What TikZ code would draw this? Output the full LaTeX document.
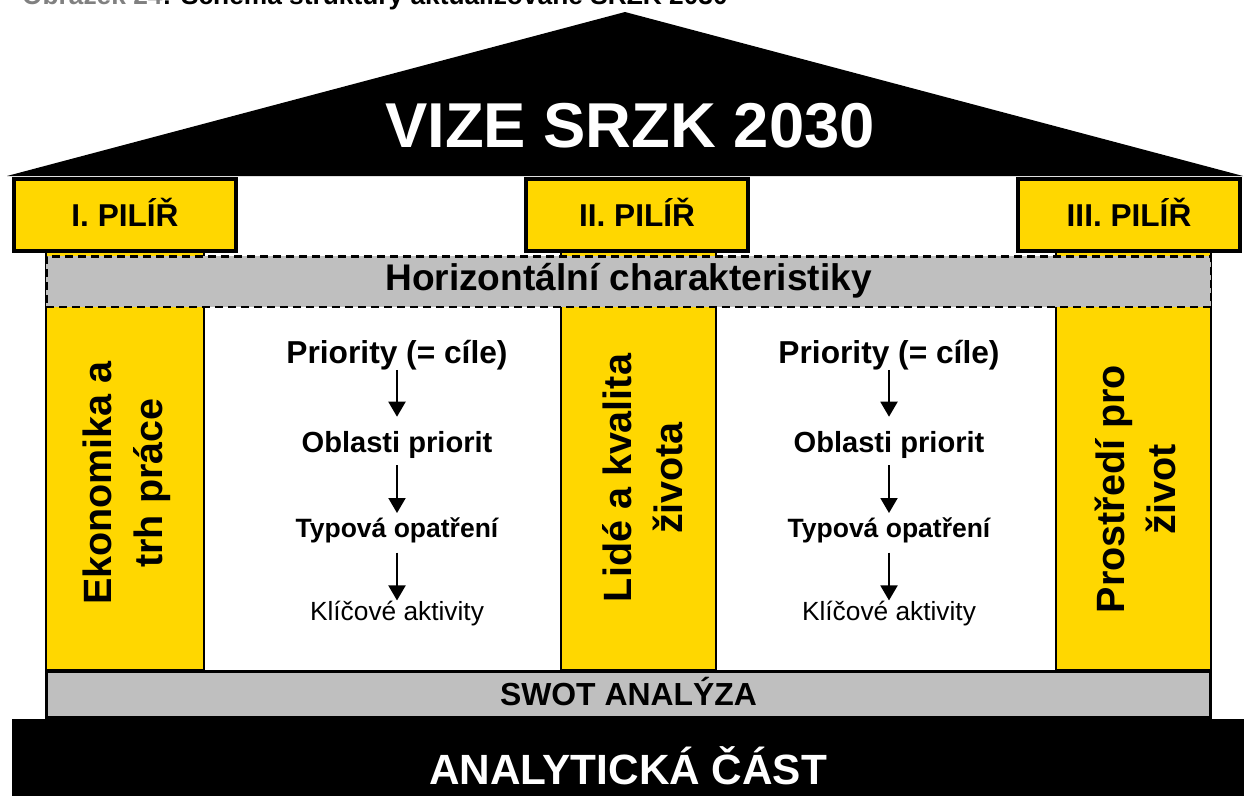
\documentclass[tikz,border=0pt]{standalone}
\usepackage{fontspec}
\setmainfont{Liberation Sans}
\usetikzlibrary{arrows.meta}
\definecolor{pilyellow}{RGB}{255,215,0}
\definecolor{bandgray}{RGB}{191,191,191}
\definecolor{capgray}{RGB}{128,128,128}
\newcommand{\fsz}[2]{\fontsize{#1}{#2}\selectfont}
\begin{document}
\begin{tikzpicture}[
  x=1pt, y=-1pt,
  hdr/.style={draw, line width=4pt, fill=pilyellow, minimum width=222pt, minimum height=72pt,
              inner sep=0pt, text height=22.6pt, text depth=0pt, font=\bfseries\fsz{31.6pt}{38pt}},
  col/.style={draw, line width=2.5pt, fill=pilyellow},
  coltxt/.style={rotate=90, align=center, inner sep=0pt, font=\bfseries\fsz{39.5pt}{51pt}},
  band/.style={draw, line width=2.5pt, fill=bandgray, inner sep=0pt},
  prio/.style={anchor=base, inner sep=0pt, font=\bfseries\fsz{31.7pt}{38pt}},
  area/.style={anchor=base, inner sep=0pt, font=\bfseries\fsz{29.1pt}{35pt}},
  meas/.style={anchor=base, inner sep=0pt, font=\bfseries\fsz{26.5pt}{32pt}},
  act/.style={anchor=base, inner sep=0pt, font=\fsz{26.3pt}{32pt}},
  arr/.style={-{Triangle[width=17pt,length=15pt]}, line width=2pt}
]
  \useasboundingbox (0,0) rectangle (1244,796);

  % caption, cut off by the page edge
  \node[anchor=base west, inner sep=0pt, font=\bfseries\fsz{26.3pt}{32pt}] (cap) at (22,4)
    {\textcolor{capgray}{Obrázek 24}: Schéma struktury aktualizované SRZK 2030};

  % roof
  \fill (7,176) -- (625,12) -- (1243,176) -- cycle;
  \node[anchor=base, text=white, inner sep=0pt, font=\bfseries\fsz{63.4pt}{76pt}] (vize) at (630,147) {VIZE SRZK 2030};

  % pillars
  \draw[col] (46,250) rectangle (204,670);
  \draw[col] (561,250) rectangle (716,670);
  \draw[col] (1056,250) rectangle (1211,670);
  \node[hdr] (h1) at (125,215) {I. PILÍŘ};
  \node[hdr] (h2) at (637,215) {II. PILÍŘ};
  \node[hdr] (h3) at (1129,215) {III. PILÍŘ};

  \node[band, dash pattern=on 8pt off 5pt, minimum width=1164.5pt, minimum height=50.5pt,
        text height=26.6pt, text depth=9.6pt, font=\bfseries\fsz{37.1pt}{44pt}] (hz) at (628.5,281.5)
    {Horizontální charakteristiky};
  \node[band, line width=3pt, minimum width=1164pt, minimum height=46pt,
        text height=22.8pt, text depth=0pt, font=\bfseries\fsz{31.9pt}{38pt}] (swot) at (628.5,694.5)
    {SWOT ANALÝZA};

  % base
  \fill (12,719) rectangle (1244,796);
  \node[anchor=base, text=white, inner sep=0pt, font=\bfseries\fsz{42.3pt}{50pt}] (base) at (628,784) {ANALYTICKÁ ČÁST};

  \node[coltxt] (c1) at (127,483) {Ekonomika a\\trh práce};
  \node[coltxt] (c2) at (643,478) {Lidé a kvalita\\života};
  \node[coltxt] (c3) at (1135,489) {Prostředí pro\\život};

  % left chain
  \node[prio] (pri1) at (397,363) {Priority (= cíle)};
  \node[area] (obl1) at (397,452) {Oblasti priorit};
  \node[meas] (typ1) at (397,537) {Typová opatření};
  \node[act]  (kli1) at (397,620) {Klíčové aktivity};
  % right chain
  \node[prio] (pri2) at (889,363) {Priority (= cíle)};
  \node[area] (obl2) at (889,452) {Oblasti priorit};
  \node[meas] (typ2) at (889,537) {Typová opatření};
  \node[act]  (kli2) at (889,620) {Klíčové aktivity};

  \draw[arr, shorten >=14pt] (pri1) -- (obl1);
  \draw[arr, shorten <=7pt, shorten >=4pt] (obl1) -- (typ1);
  \draw[arr, shorten <=10pt] (typ1) -- (kli1);
  \draw[arr, shorten >=14pt] (pri2) -- (obl2);
  \draw[arr, shorten <=7pt, shorten >=4pt] (obl2) -- (typ2);
  \draw[arr, shorten <=10pt] (typ2) -- (kli2);
\end{tikzpicture}
\end{document}
